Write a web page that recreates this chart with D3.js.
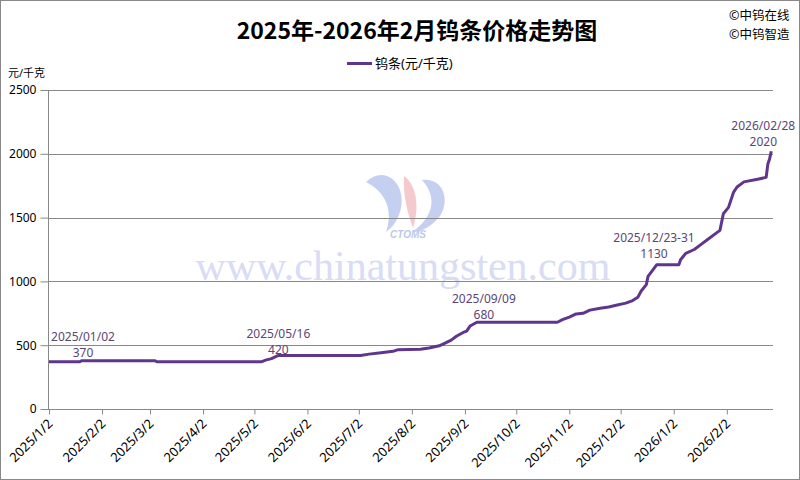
<!DOCTYPE html>
<html>
<head>
<meta charset="utf-8">
<script src="https://cdn.jsdelivr.net/npm/d3@7"></script>
<style>
  body { margin: 0; background: #fff; }
  svg text { font-family: "Noto Sans", "Noto Sans CJK SC", sans-serif; }
</style>
</head>
<body>
<div id="chart"></div>
<script>
// price points (date, yuan/kg)
var dates = ["2025-01-02","2025-01-20","2025-01-21","2025-03-05","2025-03-06","2025-05-06","2025-05-09","2025-05-12","2025-05-16",
  "2025-07-03","2025-07-08","2025-07-15","2025-07-22","2025-07-25","2025-08-07","2025-08-12","2025-08-18","2025-08-22","2025-08-25",
  "2025-08-28","2025-09-01","2025-09-03","2025-09-05","2025-09-09","2025-10-26","2025-10-29","2025-11-02","2025-11-06","2025-11-10",
  "2025-11-14","2025-11-20","2025-11-25","2025-11-30","2025-12-05","2025-12-09","2025-12-12","2025-12-14","2025-12-17","2025-12-18",
  "2025-12-23","2025-12-31","2026-01-05","2026-01-06","2026-01-09","2026-01-14","2026-01-18","2026-01-22","2026-01-27","2026-01-29",
  "2026-01-31","2026-02-03","2026-02-06","2026-02-08","2026-02-12","2026-02-20","2026-02-25","2026-02-26","2026-02-27","2026-02-28"];
var prices = [370,370,378,378,370,370,385,395,420,
  420,430,440,452,465,468,478,495,520,540,
  570,600,610,650,680,680,700,720,745,750,
  775,790,800,815,830,850,875,925,975,1040,
  1130,1130,1130,1170,1220,1250,1290,1330,1380,1400,
  1530,1580,1700,1740,1780,1800,1815,1920,1960,2020];

var tickDates = ["2025-01-02","2025-02-02","2025-03-02","2025-04-02","2025-05-02","2025-06-02","2025-07-02",
  "2025-08-02","2025-09-02","2025-10-02","2025-11-02","2025-12-02","2026-01-02","2026-02-02"];
var yTicks = [0,500,1000,1500,2000,2500];

var noteDates = ["2025-01-02","2025-05-16","2025-09-09","2025-12-27","2026-02-28"];
var noteValues = [370,420,680,1130,2020];
var noteLabels = ["2025/01/02","2025/05/16","2025/09/09","2025/12/23-31","2026/02/28"];

var W = 800, H = 480;
var parse = d3.timeParse("%Y-%m-%d");
var fmt = d3.timeFormat("%Y/%-m/%-d");

var svg = d3.select("#chart").append("svg")
  .attr("width", W).attr("height", H);

svg.append("rect").attr("x", 0.5).attr("y", 0.5).attr("width", W - 1).attr("height", H - 1)
  .attr("fill", "#fff").attr("stroke", "#888");

var x = d3.scaleTime().domain([parse("2025-01-02"), parse("2026-03-01")]).range([49, 773]);
var y = d3.scaleLinear().domain([0, 2500]).range([409, 90]);

// watermark
var wm = svg.append("g").attr("opacity", 0.6).attr("transform", "translate(0,-4)");
wm.append("path").attr("d", "M366,186 C378,174 394,178 400,194 C405,210 398,228 386,236 C392,220 390,198 366,186 Z").attr("fill", "#9fb0e6");
wm.append("path").attr("d", "M404,180 C416,188 420,210 413,232 C408,218 403,202 404,180 Z").attr("fill", "#f0a8b0");
wm.append("path").attr("d", "M422,184 C444,182 450,204 440,220 C432,230 422,236 412,236 C430,224 440,204 422,184 Z").attr("fill", "#9fb0e6");
wm.append("text").attr("x", 408).attr("y", 242).attr("text-anchor", "middle")
  .style("font-family", "Liberation Sans").style("font-size", "10px").style("font-weight", "bold").style("font-style", "italic")
  .attr("fill", "#8fa3e0").text("CTOMS");
svg.append("text").attr("x", 403).attr("y", 280).attr("text-anchor", "middle")
  .style("font-family", "Liberation Serif").style("font-size", "42px").attr("fill", "#c8cef2").attr("opacity", 0.7)
  .text("www.chinatungsten.com");

// grid
svg.append("g").selectAll("line").data(yTicks.slice(1)).enter().append("line")
  .attr("x1", 48).attr("x2", 773).attr("y1", function(d){ return Math.round(y(d)) + 0.5; })
  .attr("y2", function(d){ return Math.round(y(d)) + 0.5; })
  .attr("stroke", "#888").attr("stroke-width", 1);

// y axis
var yAxis = d3.axisLeft(y).tickValues(yTicks).tickFormat(d3.format("d")).tickSize(8).tickPadding(4);
var gy = svg.append("g").attr("transform", "translate(48.5,0)").call(yAxis);
gy.select(".domain").attr("stroke", "#888").attr("d", "M0," + y(2500) + "V" + y(0));
gy.selectAll(".tick line").attr("stroke", "#888");
gy.selectAll(".tick text").style("font-size", "12px").attr("fill", "#000");

// x axis
var xAxis = d3.axisBottom(x).tickValues(tickDates.map(parse)).tickFormat(fmt).tickSize(5);
var gx = svg.append("g").attr("transform", "translate(0,409.5)").call(xAxis);
gx.select(".domain").attr("stroke", "#888").attr("d", "M48,0H773");
gx.selectAll(".tick line").attr("stroke", "#888");
gx.selectAll(".tick text")
  .style("font-size", "13px").attr("fill", "#000")
  .attr("text-anchor", "end").attr("dy", null).attr("y", 0)
  .attr("transform", "translate(4,15) rotate(-45)");

// line
var pts = dates.map(function(d, i){ return {date: parse(d), value: prices[i]}; });
var line = d3.line().x(function(d){ return x(d.date); }).y(function(d){ return y(d.value); });
svg.append("path").datum(pts).attr("d", line)
  .attr("fill", "none").attr("stroke", "#60368c").attr("stroke-width", 3).attr("stroke-linejoin", "round");

// annotations
var dx = [34, 0, 7, 0, -8];
var dyTop = [-21, -17, -19, -23, -21];
noteDates.forEach(function(d, i){
  var px = x(parse(d)) + dx[i], py = y(noteValues[i]);
  if (i == 3) px = 654;
  svg.append("text").attr("x", px).attr("y", py + dyTop[i]).attr("text-anchor", "middle")
    .style("font-size", "12px").attr("fill", "#5a4676").text(noteLabels[i]);
  svg.append("text").attr("x", px).attr("y", py + dyTop[i] + 16).attr("text-anchor", "middle")
    .style("font-size", "12px").attr("fill", "#5a4676").text(noteValues[i]);
});

// titles
svg.append("text").attr("x", 417).attr("y", 39).attr("text-anchor", "middle")
  .style("font-family", "Noto Sans CJK SC").style("font-size", "23px").style("font-weight", "bold")
  .attr("fill", "#000").text("2025年-2026年2月钨条价格走势图");
svg.append("text").attr("x", 729).attr("y", 20).style("font-size", "12.5px").text("©中钨在线");
svg.append("text").attr("x", 729).attr("y", 39).style("font-size", "12.5px").text("©中钨智造");
svg.append("text").attr("x", 8).attr("y", 77).style("font-size", "11px").text("元/千克");

// legend
svg.append("line").attr("x1", 347).attr("x2", 372).attr("y1", 63.5).attr("y2", 63.5)
  .attr("stroke", "#60368c").attr("stroke-width", 3);
svg.append("text").attr("x", 375).attr("y", 68).style("font-size", "13px").text("钨条(元/千克)");
</script>
</body>
</html>
